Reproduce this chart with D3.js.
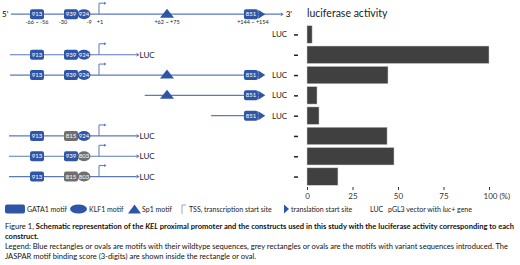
<!DOCTYPE html>
<html>
<head>
<meta charset="utf-8">
<script src="https://cdn.jsdelivr.net/npm/d3@7"></script>
<style>
	body { margin: 0; background: #fff; }
	svg { display: block; font-family: Lato, 'Open Sans', sans-serif; }
</style>
</head>
<body>
<div id="chart"></div>
<script>
// bar data: luciferase activity (%) for each construct, top to bottom
const constructs = ['pGL3', 'WT', 'WT+Sp1+851', 'Sp1+851', '851', 'GATA1-815', 'KLF1-803', 'GATA1-815+KLF1-803'];
const activity = [2.8, 100, 44.5, 5.5, 6.6, 44, 47.8, 17];
const activityTicks = [0, 25, 50, 75, 100];

// schematic positions in bp, relative to the TSS
const motifBp = { gata: -61, klfRect: -27, klfOval: -14, tss: 1, sp1: 68, m851: 149, atg: 159 };
const bpLabels = [
	{ bp: -61, text: '-66 ~ -56' },
	{ bp: -35, text: '-30' },
	{ bp: -9, text: '-9' },
	{ bp: 2, text: '+1' },
	{ bp: 68, text: '+62 ~ +75' },
	{ bp: 150, text: '+144 ~ +154' },
];

// rows of the schematic: start/end in bp and motif scores (null = absent), grey = variant
const rows = [
	{ slot: 0, start: -88, end: 180, gata: 913, rect: 939, oval: 924, sp1: true, m851: 851, atg: true, tss: true, luc: false, ends: true },
	{ slot: 2, start: -89, end: 38, gata: 913, rect: 939, oval: 924, sp1: false, m851: null, atg: false, tss: true, luc: true },
	{ slot: 3, start: -89, end: 160, gata: 913, rect: 939, oval: 924, sp1: true, m851: 851, atg: true, tss: true, luc: true },
	{ slot: 4, start: 46, end: 160, gata: null, rect: null, oval: null, sp1: true, m851: 851, atg: true, tss: false, luc: true },
	{ slot: 5, start: 110, end: 160, gata: null, rect: null, oval: null, sp1: false, m851: 851, atg: true, tss: false, luc: true },
	{ slot: 6, start: -90, end: 38, gata: 913, rect: 815, rectGrey: true, oval: 924, sp1: false, m851: null, atg: false, tss: true, luc: true },
	{ slot: 7, start: -90, end: 38, gata: 913, rect: 939, oval: 803, ovalGrey: true, sp1: false, m851: null, atg: false, tss: true, luc: true },
	{ slot: 8, start: -90, end: 38, gata: 913, rect: 815, rectGrey: true, oval: 803, ovalGrey: true, sp1: false, m851: null, atg: false, tss: true, luc: true },
];

const width = 520;
const height = 265;
const blue = '#2f56a6';
const lineBlue = '#5b79bd';
const grey = '#6f6f6f';
const barColor = '#404040';

const svg = d3.select('#chart').append('svg')
	.attr('width', width)
	.attr('height', height);
svg.append('rect').attr('width', width).attr('height', height).attr('fill', '#fff');

// shared vertical slots (slot 0 = promoter / title, 1..8 = bars)
const y = d3.scaleBand()
	.domain(d3.range(9))
	.range([4, 4 + 9 * 20.3])
	.paddingInner(0.14)
	.paddingOuter(0.07);
const cy = i => y(i) + y.bandwidth() / 2;

// schematic scale: bp -> px (not to scale, piecewise)
const sx = d3.scaleLinear()
	.domain([-90, -61, 1, 68, 149, 190])
	.range([9, 37, 99, 167, 252, 290]);

// bar scale
const x = d3.scaleLinear().domain([0, 100]).range([307, 489]);

// ---------- schematic ----------
const schem = svg.append('g');

rows.forEach(r => {
	const g = schem.append('g');
	const yy = cy(r.slot);
	const lineEnd = sx(r.end);
	g.append('line')
		.attr('x1', sx(r.start)).attr('x2', lineEnd)
		.attr('y1', yy).attr('y2', yy)
		.attr('stroke', lineBlue).attr('stroke-width', 1.2);

	if ((r.luc && !r.atg) || r.ends) {
		// small arrow head at the end of the line
		g.append('path')
			.attr('d', `M${lineEnd},${yy - 2}L${lineEnd + 3},${yy}L${lineEnd},${yy + 2}Z`)
			.attr('fill', lineBlue);
	}
	if (r.ends) {
		g.append('text').attr('x', 2).attr('y', yy + 3).style('font-size', '8px').text("5'");
		g.append('text').attr('x', lineEnd + 5).attr('y', yy + 3).style('font-size', '8px').text("3'");
	}

	const rectMotif = (bp, score, fill) => {
		const cxp = sx(bp);
		g.append('rect')
			.attr('x', cxp - 7).attr('y', yy - 5)
			.attr('width', 14).attr('height', 10)
			.attr('rx', 2)
			.attr('fill', fill);
		g.append('text')
			.attr('x', cxp).attr('y', yy + 2)
			.attr('text-anchor', 'middle')
			.attr('fill', '#fff')
			.style('font-size', '6px')
			.text(score);
	};

	if (r.gata) rectMotif(motifBp.gata, r.gata, blue);
	if (r.rect) rectMotif(motifBp.klfRect, r.rect, r.rectGrey ? grey : blue);
	if (r.oval) {
		g.append('ellipse')
			.attr('cx', sx(motifBp.klfOval)).attr('cy', yy)
			.attr('rx', 6.5).attr('ry', 5)
			.attr('fill', r.ovalGrey ? grey : blue);
		g.append('text')
			.attr('x', sx(motifBp.klfOval)).attr('y', yy + 2)
			.attr('text-anchor', 'middle')
			.attr('fill', '#fff')
			.style('font-size', '6px')
			.text(r.oval);
	}
	if (r.tss) {
		const tx = sx(motifBp.tss);
		g.append('path')
			.attr('d', `M${tx},${yy}V${yy - 11}H${tx + 5}`)
			.attr('fill', 'none')
			.attr('stroke', lineBlue).attr('stroke-width', 1);
		g.append('path')
			.attr('d', `M${tx + 5},${yy - 12.5}L${tx + 7.5},${yy - 11}L${tx + 5},${yy - 9.5}Z`)
			.attr('fill', lineBlue);
	}
	if (r.sp1) {
		const px = sx(motifBp.sp1);
		g.append('path')
			.attr('d', `M${px - 7},${yy + 3.5}L${px},${yy - 5.5}L${px + 7},${yy + 3.5}Z`)
			.attr('fill', blue);
	}
	if (r.m851) rectMotif(motifBp.m851 - 1, r.m851, blue);
	if (r.atg) {
		const ax = sx(motifBp.atg);
		g.append('path')
			.attr('d', `M${ax - 3},${yy - 4.5}L${ax + 4},${yy}L${ax - 3},${yy + 4.5}Z`)
			.attr('fill', blue);
	}
	if (r.luc) {
		g.append('text')
			.attr('x', r.atg ? 272 : lineEnd + 3)
			.attr('y', yy + 3)
			.style('font-size', '8px')
			.attr('fill', '#222')
			.text('LUC');
	}
});

// position labels under the promoter
schem.selectAll('.bp')
	.data(bpLabels)
	.enter()
	.append('text')
	.attr('class', 'bp')
	.attr('x', d => sx(d.bp))
	.attr('y', cy(0) + 10)
	.attr('text-anchor', 'middle')
	.style('font-size', '5.5px')
	.attr('fill', '#222')
	.text(d => d.text);

// LUC label for the empty vector bar
svg.append('text')
	.attr('x', 272).attr('y', cy(1) + 3)
	.style('font-size', '8px')
	.attr('fill', '#222')
	.text('LUC');

// ---------- bar chart ----------
svg.append('text')
	.attr('x', 307).attr('y', 17)
	.style('font-size', '10.5px')
	.attr('fill', '#222')
	.text('luciferase activity');

const bars = svg.append('g');
bars.selectAll('rect')
	.data(activity)
	.enter()
	.append('rect')
	.attr('x', x(0))
	.attr('y', (d, i) => y(i + 1))
	.attr('width', d => x(d) - x(0))
	.attr('height', y.bandwidth())
	.attr('fill', barColor)
	.attr('stroke', '#cfcfcf')
	.attr('stroke-width', 0.5);

// little dashes left of the bars
const yAxis = d3.axisLeft(d3.scalePoint().domain(d3.range(1, 9)).range([cy(1), cy(8)]))
	.tickSize(4)
	.tickFormat('');
svg.append('g')
	.attr('transform', 'translate(298,0)')
	.call(yAxis)
	.call(g => g.select('.domain').remove())
	.call(g => g.selectAll('line').attr('stroke', '#222').attr('stroke-width', 1.5));

const xAxis = d3.axisBottom(x)
	.tickValues(activityTicks)
	.tickSize(3)
	.tickPadding(3)
	.tickFormat(d => d === 100 ? '100 (%)' : d);
svg.append('g')
	.attr('transform', 'translate(0,187)')
	.call(xAxis)
	.call(g => g.select('.domain').remove())
	.call(g => g.selectAll('line').attr('stroke', '#333'))
	.call(g => g.selectAll('text')
		.style('font-family', 'Lato, sans-serif')
		.style('font-size', '8px')
		.attr('fill', '#333'))
	.call(g => g.selectAll('.tick').filter(d => d === 100).select('text')
		.attr('text-anchor', 'start').attr('dx', -6));

// ---------- legend ----------
const leg = svg.append('g').attr('transform', 'translate(0,209)').style('font-size', '7px').attr('fill', '#222');
leg.append('rect').attr('x', 5).attr('y', -4.5).attr('width', 20).attr('height', 9).attr('rx', 2).attr('fill', blue);
leg.append('text').attr('x', 27).attr('y', 2.5).text('GATA1 motif');
leg.append('ellipse').attr('cx', 78.5).attr('cy', 0).attr('rx', 8.5).attr('ry', 4.5).attr('fill', blue);
leg.append('text').attr('x', 89).attr('y', 2.5).text('KLF1 motif');
leg.append('path').attr('d', 'M128,4.5L134.5,-4.5L141,4.5Z').attr('fill', blue);
leg.append('text').attr('x', 142).attr('y', 2.5).text('Sp1 motif');
leg.append('path').attr('d', 'M182,5V-4H186').attr('fill', 'none').attr('stroke', '#9aa7c7').attr('stroke-width', 1);
leg.append('text').attr('x', 189).attr('y', 2.5).text('TSS, transcription start site');
leg.append('path').attr('d', 'M284,-4.5L289,0L284,4.5Z').attr('fill', blue);
leg.append('text').attr('x', 291).attr('y', 2.5).text('translation start site');
leg.append('text').attr('x', 370).attr('y', 2.5).text('LUC');
const lt = leg.append('text').attr('x', 388).attr('y', 2.5);
lt.append('tspan').text('pGL3 vector with ');
lt.append('tspan').style('font-style', 'italic').text('luc');
lt.append('tspan').text('+ gene');

// ---------- caption ----------
const cap = svg.append('g').style('font-size', '7.55px').attr('fill', '#111');
const c1 = cap.append('text').attr('x', 5).attr('y', 229)
	.attr('textLength', 509).attr('lengthAdjust', 'spacing');
c1.append('tspan').text('Figure 1, ');
c1.append('tspan').style('font-weight', 'bold').text('Schematic representation of the ');
c1.append('tspan').style('font-weight', 'bold').style('font-style', 'italic').text('KEL');
c1.append('tspan').style('font-weight', 'bold').text(' proximal promoter and the constructs used in this study with the luciferase activity corresponding to each');
cap.append('text').attr('x', 5).attr('y', 239).style('font-weight', 'bold').text('construct.');
cap.append('text').attr('x', 5).attr('y', 249)
	.attr('textLength', 503).attr('lengthAdjust', 'spacing')
	.text('Legend: Blue rectangles or ovals are motifs with their wildtype sequences, grey rectangles or ovals are the motifs with variant sequences introduced. The');
cap.append('text').attr('x', 5).attr('y', 259)
	.text('JASPAR motif binding score (3-digits) are shown inside the rectangle or oval.');
</script>
</body>
</html>
